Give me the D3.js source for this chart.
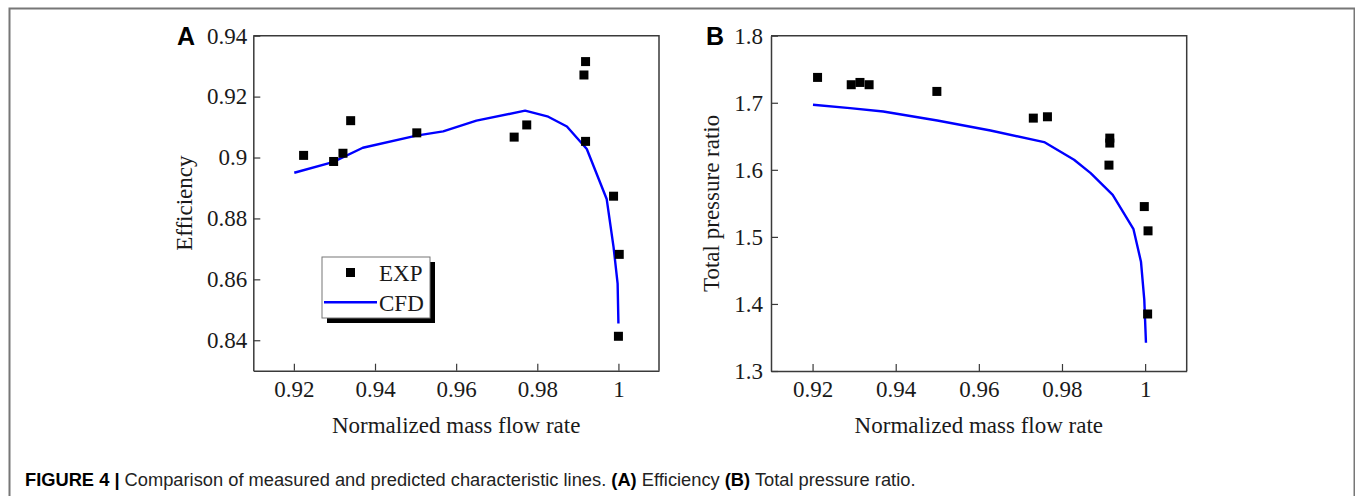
<!DOCTYPE html>
<html>
<head>
<meta charset="utf-8">
<script src="https://cdn.jsdelivr.net/npm/d3@7"></script>
<style>
  html, body { margin: 0; padding: 0; background: #fff; }
  svg { display: block; }
</style>
</head>
<body>
<svg id="chart" width="1355" height="496"></svg>
<script>
// ---------- data ----------
const xTicks = [0.92, 0.94, 0.96, 0.98, 1];
const effTicks = [0.84, 0.86, 0.88, 0.90, 0.92, 0.94];
const effTickLabels = ["0.84", "0.86", "0.88", "0.9", "0.92", "0.94"];
const prTicks = [1.3, 1.4, 1.5, 1.6, 1.7, 1.8];
const prTickLabels = ["1.3", "1.4", "1.5", "1.6", "1.7", "1.8"];

// Panel A – efficiency
const effExpX = [0.9224, 0.9298, 0.9321, 0.9340, 0.9503, 0.9743, 0.9774, 0.9919, 0.9915, 0.9919, 0.9988, 1.0002, 1.0000];
const effExpY = [0.9007, 0.8987, 0.9014, 0.9121, 0.9081, 0.9067, 0.9107, 0.9315, 0.9271, 0.9053, 0.8873, 0.8682, 0.8413];
const effCfdX = [0.9201, 0.9296, 0.9370, 0.9502, 0.9568, 0.9650, 0.9770, 0.9827, 0.9873, 0.9922, 0.9971, 0.9988, 0.9998, 1.0000];
const effCfdY = [0.8950, 0.8985, 0.9032, 0.9072, 0.9086, 0.9121, 0.9154, 0.9134, 0.9102, 0.9028, 0.8864, 0.8706, 0.8586, 0.8455];

// Panel B – total pressure ratio
const prExpX = [0.9212, 0.9293, 0.9314, 0.9336, 0.9499, 0.9731, 0.9765, 0.9915, 0.9915, 0.9913, 0.9998, 1.0007, 1.0006];
const prExpY = [1.7378, 1.7269, 1.7303, 1.7269, 1.7169, 1.6771, 1.6791, 1.6473, 1.6399, 1.6070, 1.5452, 1.5090, 1.3850];
const prCfdX = [0.9201, 0.9290, 0.9370, 0.9500, 0.9628, 0.9757, 0.9829, 0.9869, 0.9922, 0.9972, 0.9990, 0.9998, 1.0002];
const prCfdY = [1.6970, 1.6920, 1.6870, 1.6736, 1.6587, 1.6414, 1.6150, 1.5950, 1.5627, 1.5115, 1.4630, 1.4060, 1.3422];

const legendLabels = ["EXP", "CFD"];
const xTitle = "Normalized mass flow rate";

// ---------- drawing ----------
const svg = d3.select("#chart");
const SERIF = "'Liberation Serif', 'Times New Roman', serif";
const SANS = "'Liberation Sans', Arial, sans-serif";
const AXIS_COLOR = "#3a3a3a";
const TEXT_COLOR = "#1a1a1a";
const FS = 23;

// outer frame (left, top, right)
svg.append("path")
  .attr("d", "M9.5,496 L9.5,8.5 L1354.5,8.5 L1354.5,496")
  .attr("fill", "none").attr("stroke", "#777").attr("stroke-width", 2);

function panel(cfg) {
  const g = svg.append("g");
  const x = d3.scaleLinear().domain([0.91, 1.01]).range([cfg.left, cfg.right]);
  const y = d3.scaleLinear().domain(cfg.yDomain).range([cfg.bottom, cfg.top]);

  // top & right frame lines
  g.append("path")
    .attr("d", `M${cfg.left},${cfg.top} L${cfg.right},${cfg.top} L${cfg.right},${cfg.bottom}`)
    .attr("fill", "none").attr("stroke", AXIS_COLOR).attr("stroke-width", 1.5);

  const xa = g.append("g").attr("transform", `translate(0,${cfg.bottom})`)
    .call(d3.axisBottom(x).tickValues(xTicks).tickFormat(d3.format("~g"))
      .tickSizeInner(-7).tickSizeOuter(0).tickPadding(10));
  const ya = g.append("g").attr("transform", `translate(${cfg.left},0)`)
    .call(d3.axisLeft(y).tickValues(cfg.yTicks).tickFormat((d, i) => cfg.yTickLabels[i])
      .tickSizeInner(-7).tickSizeOuter(0).tickPadding(cfg.yPad));
  [xa, ya].forEach(a => {
    a.select(".domain").attr("stroke", AXIS_COLOR).attr("stroke-width", 1.5);
    a.selectAll(".tick line").attr("stroke", AXIS_COLOR).attr("stroke-width", 1.2);
    a.selectAll(".tick text").attr("font-family", SERIF).attr("font-size", FS).attr("fill", TEXT_COLOR);
  });

  // CFD line
  const line = d3.line().x(d => x(d[0])).y(d => y(d[1]));
  g.append("path")
    .datum(cfg.cfdX.map((v, i) => [v, cfg.cfdY[i]]))
    .attr("d", line).attr("fill", "none").attr("stroke", "#0000ff")
    .attr("stroke-width", 2.4).attr("stroke-linejoin", "round");

  // EXP squares
  const s = 9;
  g.selectAll("rect.exp").data(cfg.expX.map((v, i) => [v, cfg.expY[i]])).join("rect")
    .attr("class", "exp")
    .attr("x", d => x(d[0]) - s / 2).attr("y", d => y(d[1]) - s / 2)
    .attr("width", s).attr("height", s).attr("fill", "#000");

  // axis titles
  g.append("text").attr("x", (cfg.left + cfg.right) / 2).attr("y", 433)
    .attr("text-anchor", "middle").attr("font-family", SERIF).attr("font-size", FS)
    .attr("fill", TEXT_COLOR).text(xTitle);
  g.append("text")
    .attr("transform", `translate(${cfg.yTitleX},${(cfg.top + cfg.bottom) / 2}) rotate(-90)`)
    .attr("text-anchor", "middle").attr("font-family", SERIF).attr("font-size", FS)
    .attr("fill", TEXT_COLOR).text(cfg.yTitle);

  // panel letter
  g.append("text").attr("x", cfg.letterX).attr("y", 45)
    .attr("font-family", SANS).attr("font-weight", "bold").attr("font-size", 25)
    .attr("fill", "#000").text(cfg.letter);
  return g;
}

const gA = panel({
  left: 253.3, right: 659, top: 35.7, bottom: 370.7,
  yDomain: [0.83, 0.94], yTicks: effTicks, yTickLabels: effTickLabels, yPad: 6,
  expX: effExpX, expY: effExpY, cfdX: effCfdX, cfdY: effCfdY,
  yTitle: "Efficiency", yTitleX: 192, letter: "A", letterX: 177
});
panel({
  left: 771, right: 1186.7, top: 35.7, bottom: 371,
  yDomain: [1.3, 1.8], yTicks: prTicks, yTickLabels: prTickLabels, yPad: 8,
  expX: prExpX, expY: prExpY, cfdX: prCfdX, cfdY: prCfdY,
  yTitle: "Total pressure ratio", yTitleX: 719, letter: "B", letterX: 706
});

// legend (panel A)
const lg = gA.append("g");
lg.append("rect").attr("x", 327).attr("y", 262).attr("width", 108).attr("height", 61).attr("fill", "#000");
lg.append("rect").attr("x", 322).attr("y", 257).attr("width", 108).attr("height", 61)
  .attr("fill", "#fff").attr("stroke", "#777").attr("stroke-width", 1);
lg.append("rect").attr("x", 346).attr("y", 268).attr("width", 9).attr("height", 9).attr("fill", "#000");
lg.append("line").attr("x1", 324).attr("x2", 377).attr("y1", 302.3).attr("y2", 302.3)
  .attr("stroke", "#0000ff").attr("stroke-width", 2.4);
lg.selectAll("text.lg").data(legendLabels).join("text").attr("class", "lg")
  .attr("x", 379).attr("y", (d, i) => 281 + i * 29.5)
  .attr("font-family", SERIF).attr("font-size", FS).attr("fill", TEXT_COLOR).text(d => d);

// caption
const cap = svg.append("text").attr("x", 25).attr("y", 486)
  .attr("font-family", SANS).attr("font-size", 18.3).attr("fill", "#222");
cap.append("tspan").attr("font-weight", "bold").attr("fill", "#000").text("FIGURE 4 | ");
cap.append("tspan").text("Comparison of measured and predicted characteristic lines. ");
cap.append("tspan").attr("font-weight", "bold").attr("fill", "#000").text("(A)");
cap.append("tspan").text(" Efficiency ");
cap.append("tspan").attr("font-weight", "bold").attr("fill", "#000").text("(B)");
cap.append("tspan").text(" Total pressure ratio.");
</script>
</body>
</html>
